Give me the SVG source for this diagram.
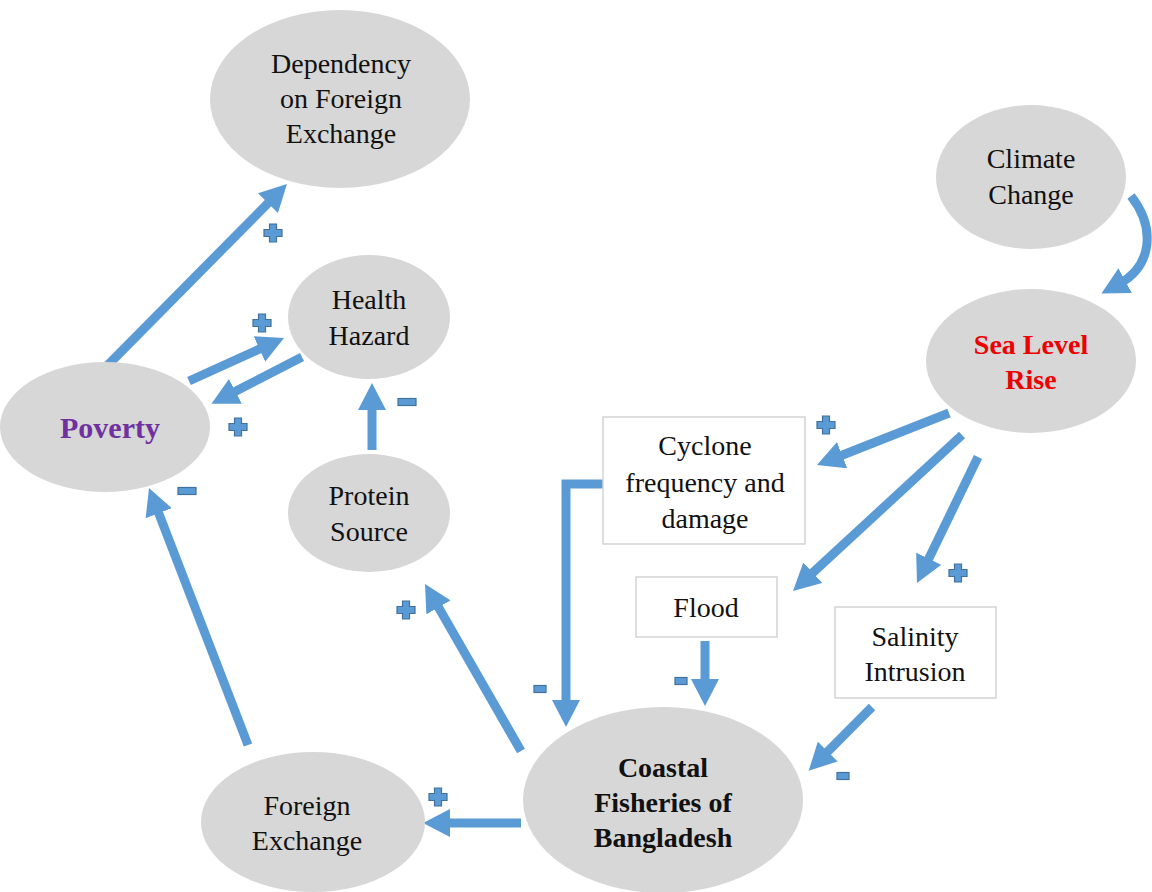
<svg xmlns="http://www.w3.org/2000/svg" width="1152" height="892" viewBox="0 0 1152 892">
<style>
.ell{fill:#D7D7D7;stroke:none}
.box{fill:#FFFFFF;stroke:#D3D3D3;stroke-width:1.5}
.t{font-family:'Liberation Serif','DejaVu Serif',serif;font-size:28px;fill:#111;text-anchor:middle}
.b{font-weight:bold}
.con{fill:none;stroke:#5B9BD5;stroke-width:9;marker-end:url(#ah)}
.sign{fill:#5B9BD5;stroke:#41719C;stroke-width:1.2}
</style>
<defs>
<marker id="ah" markerUnits="userSpaceOnUse" markerWidth="28" markerHeight="28" viewBox="0 0 28 28" refX="7" refY="14" orient="auto">
<path d="M0,0 L27,14 L0,28 z" fill="#5B9BD5"/>
</marker>
<path id="plus" d="M-3.5,-9 h7 v5.5 h5.5 v7 h-5.5 v5.5 h-7 v-5.5 h-5.5 v-7 h5.5 z"/>
<rect id="minus" x="-9" y="-3.5" width="18" height="7"/>
<rect id="minusS" x="-6" y="-3.5" width="12" height="7"/>
</defs>
<rect width="1152" height="892" fill="#FFFFFF"/>

<g id="connectors">
<path class="con" d="M105,368 L272.9,198.2"/>
<path class="con" d="M189,381 L265.8,346.2"/>
<path class="con" d="M302,357 L229.2,394.6"/>
<path class="con" d="M372,450 L372,403"/>
<path class="con" d="M248,745 L156.2,506.7"/>
<path class="con" d="M521,751 L435,601.3"/>
<path class="con" d="M521,823 L443,823"/>
<path class="con" d="M603,484 H566 V707"/>
<path class="con" d="M705,641 V686"/>
<path class="con" d="M872,707 L822.8,756.5"/>
<path class="con" d="M949,413 L835.6,457.7"/>
<path class="con" d="M962,435 L807.7,577.4"/>
<path class="con" d="M978,457 L925.7,565"/>
<path class="con" d="M1131,196 C1156,228 1152,266 1119,284"/>
</g>

<g id="signs">
<use href="#plus" class="sign" x="273" y="233"/>
<use href="#plus" class="sign" x="262" y="323"/>
<use href="#plus" class="sign" x="238" y="427"/>
<use href="#minus" class="sign" x="407" y="402"/>
<use href="#minus" class="sign" x="187" y="491"/>
<use href="#plus" class="sign" x="406" y="610"/>
<use href="#plus" class="sign" x="438" y="797"/>
<use href="#minusS" class="sign" x="540" y="689"/>
<use href="#minusS" class="sign" x="681" y="681"/>
<use href="#minusS" class="sign" x="843" y="776"/>
<use href="#plus" class="sign" x="826" y="425"/>
<use href="#plus" class="sign" x="958" y="573"/>
</g>

<g id="dependency">
<ellipse class="ell" cx="340" cy="99" rx="130" ry="89"/>
<text class="t" x="341" y="73">Dependency</text>
<text class="t" x="341" y="108">on Foreign</text>
<text class="t" x="341" y="143">Exchange</text>
</g>

<g id="climate">
<ellipse class="ell" cx="1031" cy="177" rx="95" ry="72"/>
<text class="t" x="1031" y="168">Climate</text>
<text class="t" x="1031" y="204">Change</text>
</g>

<g id="sealevel">
<ellipse class="ell" cx="1031" cy="361" rx="105" ry="72"/>
<text class="t b" x="1031" y="354" style="fill:#EE0000">Sea Level</text>
<text class="t b" x="1031" y="389" style="fill:#EE0000">Rise</text>
</g>

<g id="health">
<ellipse class="ell" cx="369" cy="317" rx="81" ry="62"/>
<text class="t" x="369" y="309">Health</text>
<text class="t" x="369" y="345">Hazard</text>
</g>

<g id="poverty">
<ellipse class="ell" cx="105" cy="427" rx="105" ry="65"/>
<text class="t b" x="110" y="438" style="fill:#7030A0;font-size:30px">Poverty</text>
</g>

<g id="protein">
<ellipse class="ell" cx="369" cy="513" rx="81" ry="59"/>
<text class="t" x="369" y="505">Protein</text>
<text class="t" x="369" y="541">Source</text>
</g>

<g id="cyclone">
<rect class="box" x="603" y="417" width="202" height="127"/>
<text class="t" x="705" y="455">Cyclone</text>
<text class="t" x="705" y="492">frequency and</text>
<text class="t" x="705" y="528">damage</text>
</g>

<g id="flood">
<rect class="box" x="636" y="577" width="141" height="60"/>
<text class="t" x="706" y="617">Flood</text>
</g>

<g id="salinity">
<rect class="box" x="835" y="607" width="161" height="91"/>
<text class="t" x="915" y="646">Salinity</text>
<text class="t" x="915" y="681">Intrusion</text>
</g>

<g id="foreign">
<ellipse class="ell" cx="313" cy="822" rx="112" ry="70"/>
<text class="t" x="307" y="815">Foreign</text>
<text class="t" x="307" y="850">Exchange</text>
</g>

<g id="coastal">
<ellipse class="ell" cx="663" cy="800" rx="140" ry="93"/>
<text class="t b" x="663" y="777">Coastal</text>
<text class="t b" x="663" y="812">Fisheries of</text>
<text class="t b" x="663" y="847">Bangladesh</text>
</g>
</svg>
